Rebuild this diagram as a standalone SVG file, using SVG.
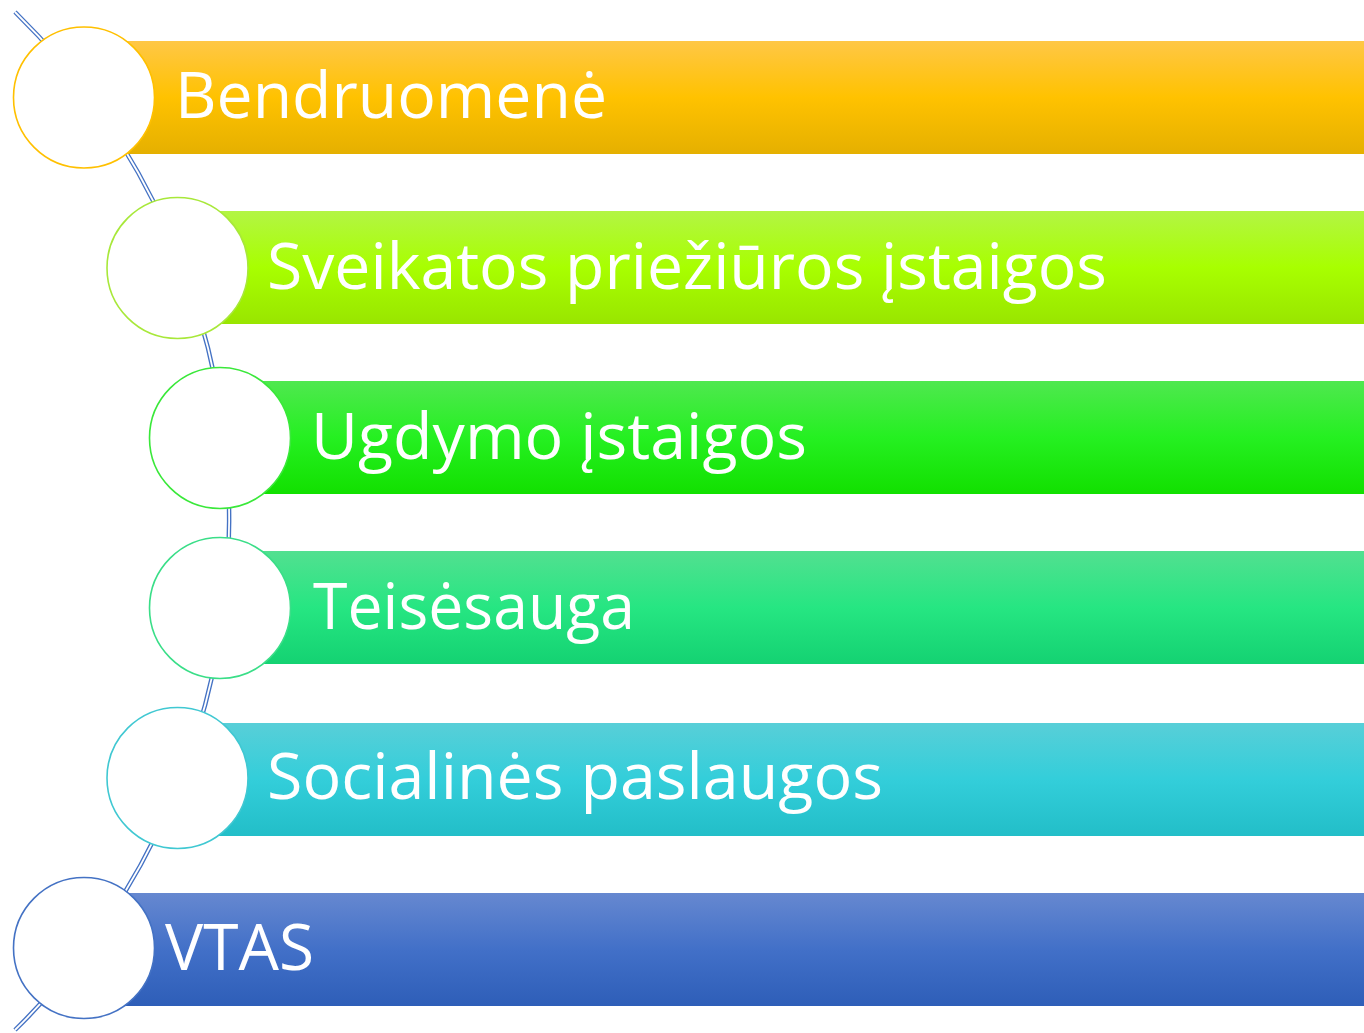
<svg xmlns="http://www.w3.org/2000/svg" width="1364" height="1033" viewBox="0 0 1364 1033">
<style>
.lbl{font-family:"Open Sans","Lato","Liberation Sans",sans-serif;font-size:64px;fill:#ffffff}
.node circle{fill:#ffffff;stroke-width:1.6}
</style>
<defs>
<linearGradient id="g1" x1="0" y1="0" x2="0" y2="1"><stop offset="0" stop-color="#FFC746"/><stop offset="0.5" stop-color="#FFC200"/><stop offset="1" stop-color="#E5B000"/></linearGradient>
<linearGradient id="g2" x1="0" y1="0" x2="0" y2="1"><stop offset="0" stop-color="#B3F544"/><stop offset="0.5" stop-color="#A8FF00"/><stop offset="1" stop-color="#99E500"/></linearGradient>
<linearGradient id="g3" x1="0" y1="0" x2="0" y2="1"><stop offset="0" stop-color="#4FE84F"/><stop offset="0.5" stop-color="#25F021"/><stop offset="1" stop-color="#12E000"/></linearGradient>
<linearGradient id="g4" x1="0" y1="0" x2="0" y2="1"><stop offset="0" stop-color="#52E090"/><stop offset="0.5" stop-color="#26E682"/><stop offset="1" stop-color="#14D272"/></linearGradient>
<linearGradient id="g5" x1="0" y1="0" x2="0" y2="1"><stop offset="0" stop-color="#58CFD8"/><stop offset="0.5" stop-color="#33CEDA"/><stop offset="1" stop-color="#22BEC8"/></linearGradient>
<linearGradient id="g6" x1="0" y1="0" x2="0" y2="1"><stop offset="0" stop-color="#6688D0"/><stop offset="0.5" stop-color="#4270C8"/><stop offset="1" stop-color="#2E5EB8"/></linearGradient>
</defs>
<rect width="1364" height="1033" fill="#ffffff"/>
<g id="connectors">
<path d="M15,12 A712,712 0 0 1 15,1030" fill="none" stroke="#4472C4" stroke-width="4.5"/>
<path d="M15,12 A712,712 0 0 1 15,1030" fill="none" stroke="#ffffff" stroke-width="1.8"/>
</g>
<g id="node1" class="node">
<rect x="84" y="41" width="1280" height="113" fill="url(#g1)"/>
<circle cx="84" cy="97.5" r="70.5" stroke="#FFC000"/>
<text class="lbl" x="175" y="118" textLength="432" lengthAdjust="spacingAndGlyphs">Bendruomenė</text>
</g>
<g id="node2" class="node">
<rect x="178" y="211" width="1186" height="113" fill="url(#g2)"/>
<circle cx="177.5" cy="268" r="70.5" stroke="#A8E83A"/>
<text class="lbl" x="267" y="289" textLength="840" lengthAdjust="spacingAndGlyphs">Sveikatos priežiūros įstaigos</text>
</g>
<g id="node3" class="node">
<rect x="220" y="381" width="1144" height="113" fill="url(#g3)"/>
<circle cx="220" cy="438" r="70.5" stroke="#3AE83A"/>
<text class="lbl" x="311" y="459" textLength="496" lengthAdjust="spacingAndGlyphs">Ugdymo įstaigos</text>
</g>
<g id="node4" class="node">
<rect x="220" y="551" width="1144" height="113" fill="url(#g4)"/>
<circle cx="220" cy="608" r="70.5" stroke="#3ADE88"/>
<text class="lbl" x="313" y="629" textLength="322" lengthAdjust="spacingAndGlyphs">Teisėsauga</text>
</g>
<g id="node5" class="node">
<rect x="178" y="723" width="1186" height="113" fill="url(#g5)"/>
<circle cx="177.5" cy="778" r="70.5" stroke="#40C8D2"/>
<text class="lbl" x="267" y="799" textLength="616" lengthAdjust="spacingAndGlyphs">Socialinės paslaugos</text>
</g>
<g id="node6" class="node">
<rect x="84" y="893" width="1280" height="113" fill="url(#g6)"/>
<circle cx="84" cy="948" r="70.5" stroke="#4472C4"/>
<text class="lbl" x="165" y="970" textLength="149" lengthAdjust="spacingAndGlyphs">VTAS</text>
</g>
</svg>
